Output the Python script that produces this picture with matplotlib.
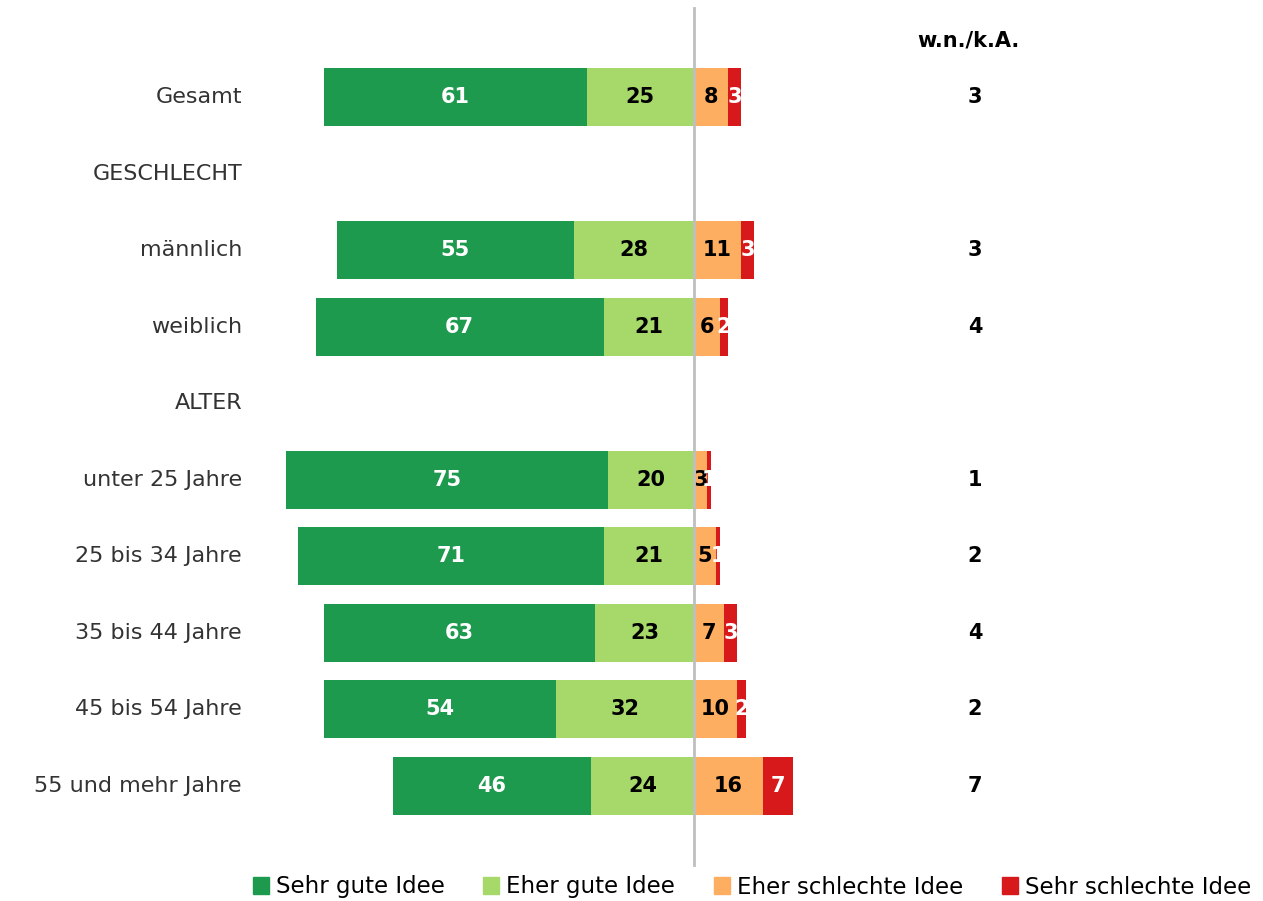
import numpy as np
import matplotlib.pyplot as plt
from matplotlib.patches import Patch

# data (percent)
categories = ['Gesamt', 'GESCHLECHT', 'männlich', 'weiblich', 'ALTER',
              'unter 25 Jahre', '25 bis 34 Jahre', '35 bis 44 Jahre',
              '45 bis 54 Jahre', '55 und mehr Jahre']
sehr_gut = [61, None, 55, 67, None, 75, 71, 63, 54, 46]
eher_gut = [25, None, 28, 21, None, 20, 21, 23, 32, 24]
eher_schlecht = [8, None, 11, 6, None, 3, 5, 7, 10, 16]
sehr_schlecht = [3, None, 3, 2, None, 1, 1, 3, 2, 7]
wn_ka = [3, None, 3, 4, None, 1, 2, 4, 2, 7]

series_names = ['Sehr gute Idee', 'Eher gute Idee', 'Eher schlechte Idee', 'Sehr schlechte Idee']
colors = ['#1e9a4e', '#a6d96a', '#fdae61', '#d7191c']
text_colors = ['white', 'black', 'black', 'white']

plt.rcParams['font.family'] = ['DejaVu Sans']

W, H = 1263, 901
fig = plt.figure(figsize=(W / 100, H / 100), dpi=100)
ax = fig.add_axes([0, 0, 1, 1])

px_per_unit = 4.3
center_px = 694
ax.set_xlim((0 - center_px) / px_per_unit, (W - center_px) / px_per_unit)
row0, row_step = 97, 76.55
ax.set_ylim((H - row0) / row_step, -row0 / row_step)
ax.axis('off')

bar_h = 0.76
for i, cat in enumerate(categories):
    ax.text((242 - center_px) / px_per_unit, i, cat, ha='right', va='center',
            fontsize=16, color='#333333')
    if sehr_gut[i] is None:
        continue
    left_vals = [sehr_gut[i], eher_gut[i]]
    right_vals = [eher_schlecht[i], sehr_schlecht[i]]
    starts = [-(left_vals[0] + left_vals[1]), -left_vals[1], 0, right_vals[0]]
    vals = left_vals + right_vals
    for k in range(4):
        ax.barh(i, vals[k], left=starts[k], height=bar_h, color=colors[k], edgecolor='none')
        cx = starts[k] + vals[k] / 2
        ax.text(cx, i, str(vals[k]), ha='center', va='center', fontsize=15,
                fontweight='bold', color=text_colors[k])
    ax.text((975 - center_px) / px_per_unit, i, str(wn_ka[i]), ha='center', va='center',
            fontsize=15, fontweight='bold', color='black')

ax.text((968 - center_px) / px_per_unit, -57 / row_step, 'w.n./k.A.', ha='center', va='center',
        fontsize=15, fontweight='bold', color='black')

ax.plot([0, 0], [(8 - row0) / row_step, (865 - row0) / row_step], color='#bfbfbf', lw=2, zorder=5)

handles = [Patch(color=c, label=n) for c, n in zip(colors, series_names)]
fig.legend(handles=handles, loc='center', bbox_to_anchor=(752 / W, 1 - 887 / H), ncol=4,
           frameon=False, handlelength=0.7, handleheight=0.7,
           handletextpad=0.3, columnspacing=1.7,
           prop={'family': 'DejaVu Sans', 'size': 16.5})

fig.savefig('out.png', dpi=100)
